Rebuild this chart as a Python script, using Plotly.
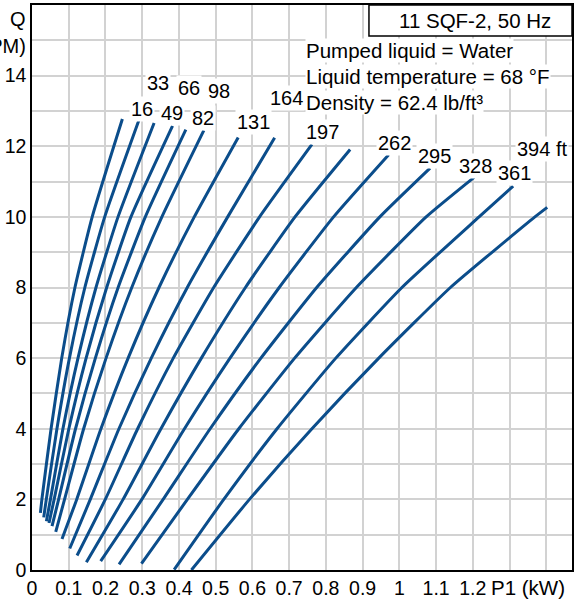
import plotly.graph_objects as go

# ---- data ----
head_labels = ["16", "33", "49", "66", "82", "98", "131", "164", "197", "", "262", "295", "328", "361", "394 ft"]

q_1 = [1.62, 2, 4, 6, 8, 10, 12.77]
p_1 = [0.0229, 0.0269, 0.0519, 0.0809, 0.1169, 0.1639, 0.246]
q_2 = [1.49, 2, 4, 6, 8, 10, 12.73]
p_2 = [0.0319, 0.0389, 0.0679, 0.1019, 0.1439, 0.1979, 0.2907]
q_3 = [1.38, 2, 4, 6, 8, 10, 12.66]
p_3 = [0.0392, 0.0502, 0.0842, 0.1252, 0.1742, 0.2342, 0.3324]
q_4 = [1.33, 2, 4, 6, 8, 10, 12.58]
p_4 = [0.0463, 0.0603, 0.1003, 0.1473, 0.2033, 0.2693, 0.3826]
q_5 = [1.24, 2, 4, 6, 8, 10, 12.47]
p_5 = [0.0545, 0.0725, 0.1185, 0.1725, 0.2345, 0.3085, 0.4188]
q_6 = [1.08, 2, 4, 6, 8, 10, 12.45]
p_6 = [0.0646, 0.0886, 0.1406, 0.2016, 0.2716, 0.3536, 0.4678]
q_7 = [0.88, 2, 4, 6, 8, 10, 12.25]
p_7 = [0.0817, 0.1217, 0.1877, 0.2617, 0.3457, 0.4417, 0.5613]
q_8 = [0.61, 2, 4, 6, 8, 10, 12.24]
p_8 = [0.1027, 0.1587, 0.2367, 0.3247, 0.4227, 0.5327, 0.6605]
q_9 = [0.41, 2, 4, 6, 8, 10, 12.05]
p_9 = [0.1226, 0.1996, 0.2876, 0.3846, 0.4946, 0.6196, 0.762]
q_10 = [0.22, 2, 4, 6, 8, 10, 11.91]
p_10 = [0.148, 0.248, 0.351, 0.461, 0.581, 0.716, 0.866]
q_11 = [0.25, 2, 4, 6, 8, 10, 11.76]
p_11 = [0.187, 0.299, 0.415, 0.539, 0.673, 0.821, 0.971]
q_12 = [0.16, 2, 4, 6, 8, 10, 11.38]
p_12 = [0.237, 0.357, 0.485, 0.623, 0.775, 0.947, 1.0837]
q_13 = [0.18, 2, 4, 6, 8, 10, 11.12]
p_13 = [0.298, 0.423, 0.563, 0.715, 0.883, 1.073, 1.2035]
q_14 = [0.01, 2, 4, 6, 8, 10, 10.87]
p_14 = [0.387, 0.522, 0.667, 0.827, 1.007, 1.217, 1.3098]
q_15 = [0.0, 2, 4, 6, 8, 10, 10.27]
p_15 = [0.434, 0.592, 0.762, 0.944, 1.139, 1.369, 1.4025]

x_tick_values = [0, 0.1, 0.2, 0.3, 0.4, 0.5, 0.6, 0.7, 0.8, 0.9, 1.0, 1.1, 1.2, 1.3, 1.4]
x_tick_labels = ["0", "0.1", "0.2", "0.3", "0.4", "0.5", "0.6", "0.7", "0.8", "0.9", "1", "1.1", "1.2", "", ""]
y_tick_values = list(range(0, 17))
y_tick_labels = ["0", "", "2", "", "4", "", "6", "", "8", "", "10", "", "12", "", "14", "", ""]

info_lines = ["Pumped liquid = Water", "Liquid temperature = 68 °F", "Density = 62.4 lb/ft³"]
title_text = "11 SQF-2, 50 Hz"

# ---- styling ----
FONT = "Liberation Sans, Arial, sans-serif"
LINE_COLOR = "#0b4d8b"
label_shift_px = [(20, 10), (19, 37), (18, 10), (16, 38), (17, 12), (15, 39), (15, 15), (12, 40),
                  (11, 12), (0, 0), (6, 12), (4, 12), (1.5, 11), (1, 13), (-5, 58)]

qs = [q_1, q_2, q_3, q_4, q_5, q_6, q_7, q_8, q_9, q_10, q_11, q_12, q_13, q_14, q_15]
ps = [p_1, p_2, p_3, p_4, p_5, p_6, p_7, p_8, p_9, p_10, p_11, p_12, p_13, p_14, p_15]

fig = go.Figure()
for q, p in zip(qs, ps):
    fig.add_trace(go.Scatter(x=p, y=q, mode="lines",
                             line=dict(color=LINE_COLOR, width=3, shape="spline", smoothing=0.5),
                             showlegend=False, hoverinfo="skip"))

annotations = []
for q, p, lab, (dx, dy) in zip(qs, ps, head_labels, label_shift_px):
    if not lab:
        continue
    annotations.append(dict(x=p[-1], y=q[-1], xref="x", yref="y", text=lab, showarrow=False,
                            xshift=dx, yshift=dy, bgcolor="white", borderpad=1,
                            font=dict(family=FONT, size=20, color="black")))

# info text lines
info_y = [0.9187, 0.8727, 0.8267]
for txt, yy in zip(info_lines, info_y):
    annotations.append(dict(x=0.5056, y=yy, xref="paper", yref="paper", text=txt, showarrow=False,
                            xanchor="left", yanchor="middle", bgcolor="white", borderpad=0,
                            font=dict(family=FONT, size=20.5, color="black")))

# title box text
annotations.append(dict(x=0.82, y=0.9726, xref="paper", yref="paper", text=title_text,
                        showarrow=False, xanchor="center", yanchor="middle",
                        font=dict(family=FONT, size=20.5, color="black")))

# axis titles
annotations.append(dict(x=1.35, y=0, xref="x", yref="paper", text="P1 (kW)", showarrow=False,
                        xanchor="center", yanchor="top", yshift=-4,
                        font=dict(family=FONT, size=20.5, color="black")))
annotations.append(dict(x=0, y=15.6, xref="paper", yref="y", text="Q", showarrow=False,
                        xanchor="right", yanchor="middle", xshift=-4,
                        font=dict(family=FONT, size=20, color="black")))
annotations.append(dict(x=0, y=14.85, xref="paper", yref="y", text="(GPM)", showarrow=False,
                        xanchor="right", yanchor="middle", xshift=-4,
                        font=dict(family=FONT, size=20, color="black")))

shapes = [dict(type="rect", xref="paper", yref="paper", x0=0.624, x1=1.0, y0=0.945, y1=1.0,
               line=dict(color="black", width=1.5), fillcolor="white", layer="above")]

fig.update_layout(
    width=581, height=599,
    margin=dict(l=32, r=9, t=5, b=29, pad=0),
    paper_bgcolor="white", plot_bgcolor="white",
    font=dict(family=FONT, size=19.5, color="black"),
    annotations=annotations, shapes=shapes,
    xaxis=dict(range=[0, 1.47], tickvals=x_tick_values, ticktext=x_tick_labels,
               showgrid=True, gridcolor="#d2d2d2", gridwidth=1.5, zeroline=False,
               showline=True, linecolor="black", linewidth=1.5, mirror=True, automargin=False,
               ticks="", tickfont=dict(family=FONT, size=19.5, color="black")),
    yaxis=dict(range=[0, 16], tickvals=y_tick_values, ticktext=y_tick_labels,
               showgrid=True, gridcolor="#d2d2d2", gridwidth=1.5, zeroline=False,
               showline=True, linecolor="black", linewidth=1.5, mirror=True, automargin=False,
               ticks="", tickfont=dict(family=FONT, size=19.5, color="black")),
)

fig.write_html("out.html", config={"displayModeBar": False},
               post_script="document.body.style.margin='0';document.body.style.overflow='hidden';")
